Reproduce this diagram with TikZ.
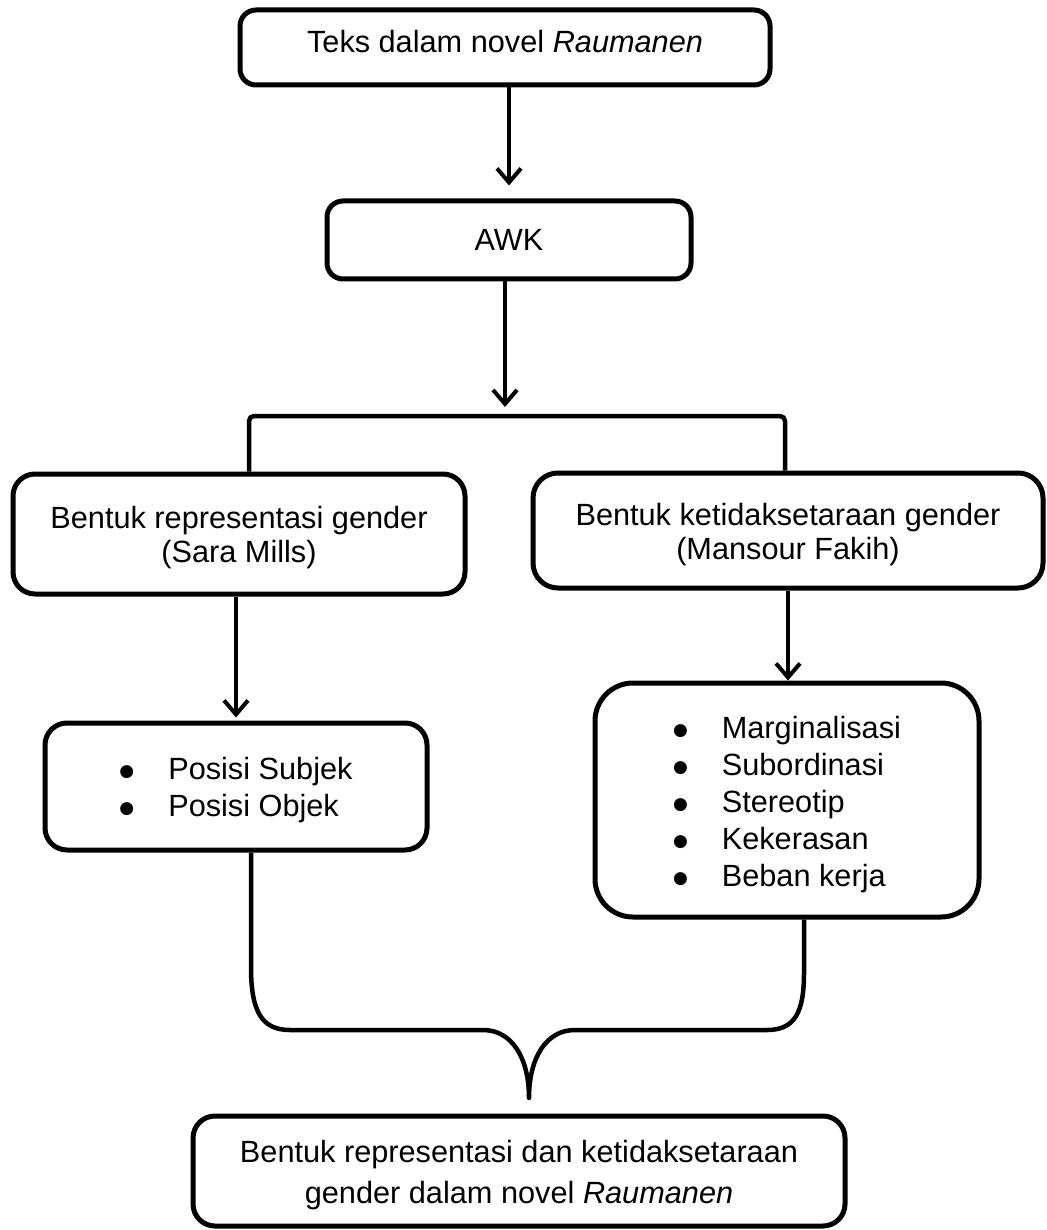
\documentclass[tikz,border=0pt]{standalone}
\usepackage{fontspec}
\setmainfont{Liberation Sans}
\newfontfamily\symfont{DejaVu Sans}
\usetikzlibrary{arrows.meta,calc}
\newcommand\bulmark{\raisebox{3pt}{\symfont\fontsize{17}{17}\selectfont ●}}
\begin{document}
\begin{tikzpicture}[x=1pt,y=-1pt,
  box/.style={draw, line width=5pt, rounded corners=20pt, inner sep=0pt, align=center,
    font=\fontsize{30.7}{34}\selectfont},
  arr/.style={line width=4pt, -{Straight Barb[length=14pt,width=24pt]}},
  conn/.style={line width=4.5pt, line join=round}]
\useasboundingbox (0,0) rectangle (1046,1230);

\node[box, rounded corners=16pt, minimum width=530pt, minimum height=75pt,
  text height=22pt, text depth=11pt] (t1) at (505,47.5) {Teks dalam novel \textit{Raumanen}};
\node[box, rounded corners=16pt, minimum width=364pt, minimum height=78pt] (awk) at (509,240) {AWK};

\node[box, rounded corners=22pt, minimum width=452pt, minimum height=120pt] (lbox) at (239,534)
  {\rule{0pt}{28.5pt}Bentuk representasi gender\\(Sara Mills)};
\node[box, rounded corners=25pt, minimum width=510pt, minimum height=115pt] (rbox) at (788,530.5)
  {\rule{0pt}{30pt}Bentuk ketidaksetaraan gender\\(Mansour Fakih)};

\node[box, rounded corners=22pt, minimum width=382pt, minimum height=127pt,
  font=\fontsize{30.7}{37}\selectfont] (lbul) at (236,786.5)
  {\begin{tabular}{@{}l@{\hspace{34pt}}l@{}}\rule{0pt}{34pt}\bulmark & Posisi Subjek\\ \bulmark & Posisi Objek\end{tabular}};
\node[box, rounded corners=38pt, minimum width=384pt, minimum height=234pt,
  font=\fontsize{30.7}{37.2}\selectfont] (rbul) at (787,800)
  {\begin{tabular}{@{}l@{\hspace{34pt}}l@{}}\rule{0pt}{36pt}\bulmark & Marginalisasi\\ \bulmark & Subordinasi\\
   \bulmark & Stereotip\\ \bulmark & Kekerasan\\ \bulmark & Beban kerja\end{tabular}};

\node[box, rounded corners=22pt, minimum width=652pt, minimum height=110pt,
  font=\fontsize{30.7}{41}\selectfont] (res) at (519,1171)
  {\rule{0pt}{30pt}Bentuk representasi dan ketidaksetaraan\\gender dalam novel \textit{Raumanen}};

\coordinate (brk) at (505,416);
\coordinate (tip) at (529,1098);

\draw[arr] (t1.south -| awk.north) -- ([yshift=13pt]awk.north);
\draw[arr] (awk.south -| brk) -- ([yshift=9pt]brk);
\draw[conn, rounded corners=5pt] ([xshift=10pt]lbox.north) |- (brk) -| ([xshift=-3pt]rbox.north);
\draw[arr] (lbox.south -| lbul.north) -- ([yshift=3pt]lbul.north);
\draw[arr] (rbox.south) -- (rbox.south |- rbul.north);

\draw[conn] ([xshift=15pt]lbul.south) -- (251,967)
  .. controls (251,1012) and (262,1030) .. (290,1030) -- (483,1030)
  .. controls (512,1030) and (529,1058) .. (tip)
  .. controls (529,1058) and (546,1030) .. (575,1030) -- (767,1030)
  .. controls (795,1030) and (804,1012) .. (804,973) -- ([xshift=17pt]rbul.south);
\end{tikzpicture}
\end{document}
